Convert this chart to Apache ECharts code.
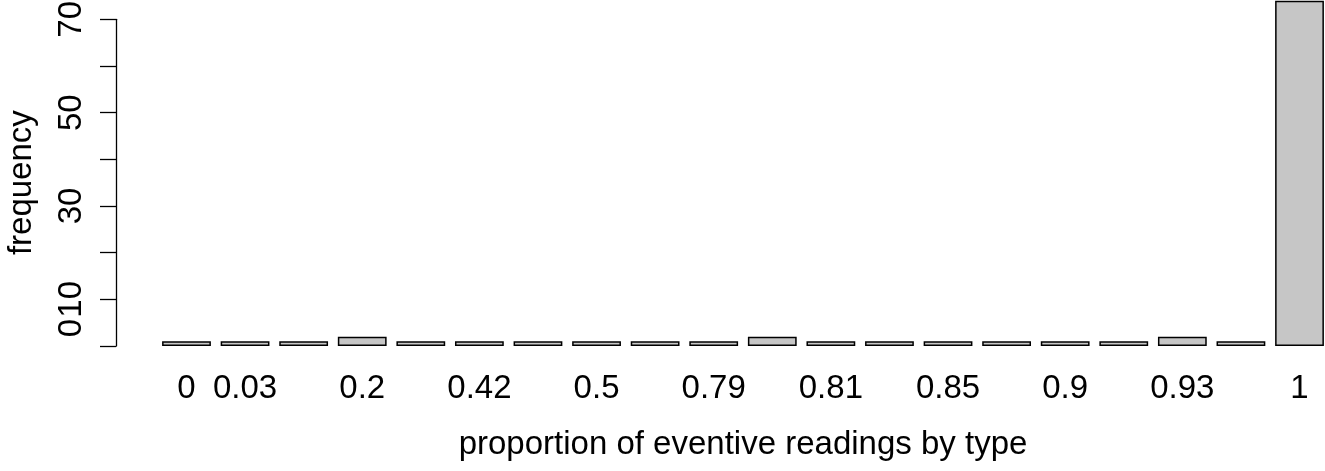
<!DOCTYPE html>
<html>
<head>
<meta charset="utf-8">
<script src="https://cdn.jsdelivr.net/npm/echarts@6/dist/echarts.min.js"></script>
<style>
  html, body { margin: 0; padding: 0; background: #fff; }
  #chart { width: 1325px; height: 471px; }
</style>
</head>
<body>
<div id="chart"></div>
<script>
// proportion values (only some labels fit, R drops the rest)
const categories = ['0', '0.03', '0.1', '0.2', '0.33', '0.42', '0.45', '0.5', '0.67', '0.79',
  '0.8', '0.81', '0.83', '0.85', '0.88', '0.9', '0.92', '0.93', '0.96', '1']
const frequency = [1, 1, 1, 2, 1, 1, 1, 1, 1, 1, 2, 1, 1, 1, 1, 1, 1, 2, 1, 74]
// y tick labels that R managed to print
const yLabelsShown = [0, 10, 30, 50, 70]

const font = '"Liberation Sans", Helvetica, Arial, sans-serif'

const chart = echarts.init(document.getElementById('chart'))

chart.setOption({
  animation: false,
  grid: { left: 157.2, right: -3.8, top: 19.3, bottom: 125, outerBoundsMode: 'none', containLabel: false },
  xAxis: {
    type: 'category',
    data: categories,
    boundaryGap: true,
    axisLine: { show: false },
    axisTick: { show: false },
    axisLabel: {
      interval: (i) => i === 0 || i % 2 === 1,
      color: '#000',
      fontFamily: font,
      fontSize: 33,
      margin: 26
    },
    name: 'proportion of eventive readings by type',
    nameLocation: 'middle',
    nameGap: 82,
    nameTextStyle: { color: '#000', fontFamily: font, fontSize: 33 }
  },
  yAxis: {
    type: 'value',
    min: 0,
    max: 70,
    interval: 10,
    offset: 41.2,
    splitLine: { show: false },
    axisLine: { show: true, lineStyle: { color: '#000', width: 1.3 } },
    axisTick: { show: true, length: 16, lineStyle: { color: '#000', width: 1.3 } },
    axisLabel: {
      rotate: 90,
      margin: 28,
      color: '#000',
      fontFamily: font,
      fontSize: 33,
      formatter: (v) => {
        if (!yLabelsShown.includes(v)) return ''
        // the "0" sits up against "10" in the original
        return v === 0 ? '{z|0}' : String(v)
      },
      rich: {
        z: { color: '#000', fontFamily: font, fontSize: 33, padding: [0, 0, 0, 36] }
      }
    },
    name: 'frequency',
    nameLocation: 'middle',
    nameRotate: 90,
    nameGap: 78,
    nameTextStyle: { color: '#000', fontFamily: font, fontSize: 33 }
  },
  series: [{
    type: 'bar',
    data: frequency,
    clip: false,
    barCategoryGap: '16.7%',
    itemStyle: { color: '#c6c6c6', borderColor: '#000', borderWidth: 1.5 }
  }]
})
</script>
</body>
</html>
